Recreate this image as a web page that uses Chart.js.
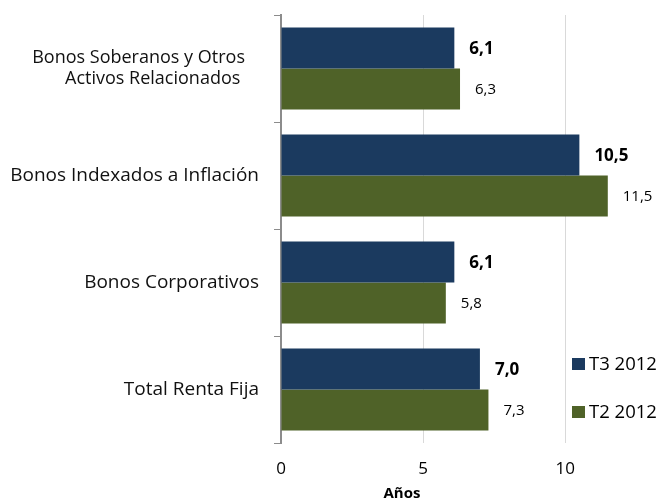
<!DOCTYPE html>
<html>
<head>
<meta charset="utf-8">
<script src="https://cdn.jsdelivr.net/npm/chart.js@4"></script>
<style>
  html, body { margin: 0; padding: 0; background: #fff; }
  #wrap { width: 662px; height: 501px; position: relative; }
</style>
</head>
<body>
<div id="wrap"><canvas id="c" width="662" height="501"></canvas></div>
<script>
const categories = [
  ["Bonos Soberanos y Otros", "Activos Relacionados"],
  "Bonos Indexados a Inflación",
  "Bonos Corporativos",
  "Total Renta Fija"
];
const seriesNames = ["T3 2012", "T2 2012"];
const t3Values = [6.1, 10.5, 6.1, 7.0];
const t2Values = [6.3, 11.5, 5.8, 7.3];
const xTickValues = [0, 5, 10];
const axisTitle = "Años";

const NAVY = '#1b3a5f';
const GREEN = '#4f6228';
const FONT = "'Open Sans', 'DejaVu Sans', sans-serif";

const fmt = v => v.toFixed(1).replace('.', ',');
const NBSP = '\u00a0';

const overlay = {
  id: 'overlay',
  afterDatasetsDraw(chart) {
    const ctx = chart.ctx;
    ctx.save();
    chart.data.datasets.forEach((ds, di) => {
      const meta = chart.getDatasetMeta(di);
      meta.data.forEach((bar, i) => {
        ctx.fillStyle = '#000';
        ctx.textAlign = 'left';
        ctx.textBaseline = 'middle';
        ctx.font = di === 0 ? `bold 17px ${FONT}` : `15px ${FONT}`;
        ctx.fillText(fmt(ds.data[i]), bar.x + 15, bar.y + 1);
      });
    });
    // legend
    const legY = [364, 412];
    chart.data.datasets.forEach((ds, di) => {
      ctx.fillStyle = ds.backgroundColor;
      ctx.fillRect(572, legY[di] - 6, 13, 12);
      ctx.fillStyle = '#000';
      ctx.font = `18.5px ${FONT}`;
      ctx.textAlign = 'left';
      ctx.textBaseline = 'middle';
      ctx.fillText(ds.label, 589, legY[di] + 1);
    });
    // axis title
    ctx.fillStyle = '#000';
    ctx.font = `bold 15px ${FONT}`;
    ctx.textAlign = 'center';
    ctx.textBaseline = 'alphabetic';
    ctx.fillText(axisTitle, 402, 498);
    ctx.restore();
  }
};

new Chart(document.getElementById('c'), {
  type: 'bar',
  data: {
    labels: categories,
    datasets: [
      { label: seriesNames[0], data: t3Values, backgroundColor: NAVY, borderWidth: 0 },
      { label: seriesNames[1], data: t2Values, backgroundColor: GREEN, borderWidth: 0 }
    ]
  },
  options: {
    indexAxis: 'y',
    responsive: false,
    animation: false,
    devicePixelRatio: 1,
    layout: { padding: { top: 15, right: 40, bottom: 0, left: 0 } },
    categoryPercentage: 0.766,
    barPercentage: 1.0,
    plugins: { legend: { display: false }, tooltip: { enabled: false } },
    scales: {
      x: {
        type: 'linear',
        min: 0,
        max: 12,
        afterBuildTicks(scale) {
          scale.ticks = xTickValues.map(v => ({ value: v }));
        },
        afterFit(scale) {
          scale.height = 58;
          scale.paddingLeft = 0;
          scale.paddingRight = 0;
        },
        grid: { color: '#d9d9d9', lineWidth: 1, drawTicks: false },
        border: { display: false },
        ticks: {
          padding: 16,
          color: '#000',
          font: { family: FONT, size: 17 },
          callback: v => String(v)
        }
      },
      y: {
        afterFit(scale) {
          scale.width = 281;
          scale.paddingTop = 0;
          scale.paddingBottom = 0;
        },
        grid: { display: true, drawOnChartArea: false, drawTicks: true, tickLength: 7, color: '#8c8c8c', lineWidth: 1 },
        border: { display: true, color: '#8c8c8c', width: 2 },
        ticks: {
          padding: 15,
          color: '#111',
          font: (c) => ({ family: FONT, size: c.index === 0 ? 18 : 19, lineHeight: 1.2 }),
          callback(value) {
            const lbl = this.getLabelForValue(value);
            if (Array.isArray(lbl)) {
              return [lbl[0] + NBSP.repeat(3), lbl[1] + NBSP.repeat(4)];
            }
            return lbl;
          }
        }
      }
    }
  },
  plugins: [overlay]
});
</script>
</body>
</html>
